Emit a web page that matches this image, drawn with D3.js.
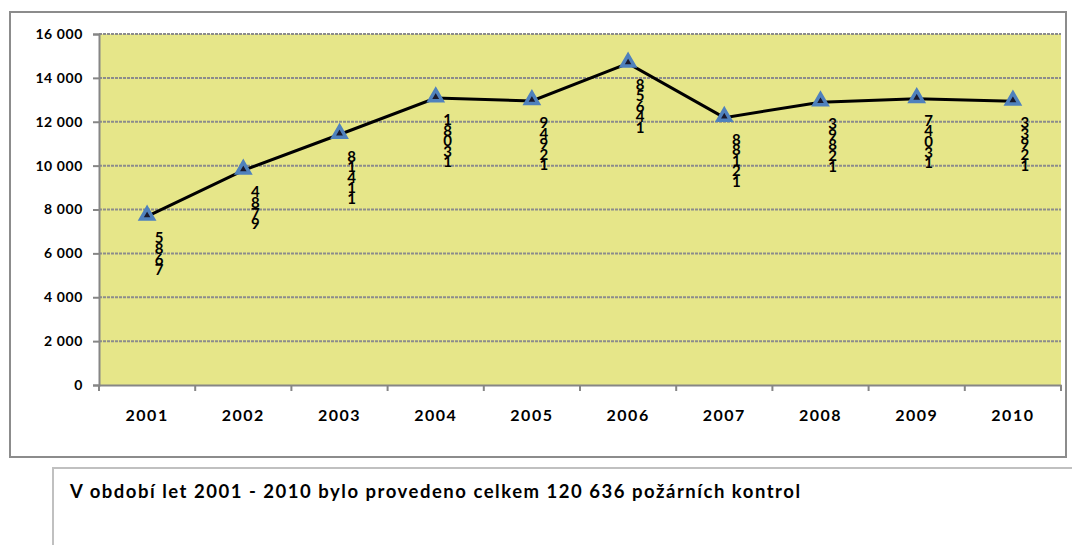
<!DOCTYPE html>
<html>
<head>
<meta charset="utf-8">
<script src="https://cdn.jsdelivr.net/npm/d3@7"></script>
<style>
  body { margin: 0; background: #fff; }
  svg text { font-family: Lato, "Liberation Sans", sans-serif; font-weight: bold; fill: #000; }
</style>
</head>
<body>
<div id="chart"></div>
<script>
var years = ["2001", "2002", "2003", "2004", "2005", "2006", "2007", "2008", "2009", "2010"];
var kontroly = [7685, 9784, 11418, 13081, 12949, 14658, 12188, 12893, 13047, 12933];
var yTicks = [0, 2000, 4000, 6000, 8000, 10000, 12000, 14000, 16000];
var popis = "V období let 2001 - 2010 bylo provedeno celkem 120 636 požárních kontrol";

var w = 1072, h = 545;
var svg = d3.select("#chart").append("svg")
    .attr("width", w)
    .attr("height", h);

// outer chart frame
svg.append("rect")
    .attr("x", 10).attr("y", 12)
    .attr("width", 1056).attr("height", 445)
    .attr("fill", "#fff")
    .attr("stroke", "#8c8c8c")
    .attr("stroke-width", 2);

var plot = {left: 99, right: 1061, top: 34, bottom: 385};

var x = d3.scaleBand()
    .domain(years)
    .range([plot.left, plot.right]);

var y = d3.scaleLinear()
    .domain([0, 16000])
    .range([plot.bottom, plot.top]);

// plot background
svg.append("rect")
    .attr("x", plot.left).attr("y", plot.top)
    .attr("width", plot.right - plot.left)
    .attr("height", plot.bottom - plot.top)
    .attr("fill", "#e6e689");

// gridlines
svg.selectAll(".grid")
    .data(yTicks.filter(function(d) { return d > 0; }))
    .enter()
    .append("line")
    .attr("class", "grid")
    .attr("x1", plot.left).attr("x2", plot.right)
    .attr("y1", function(d) { return y(d); })
    .attr("y2", function(d) { return y(d); })
    .style("stroke", "#8c8c8c")
    .style("stroke-width", 2)
    .style("stroke-dasharray", "3,1");

// y axis
var yAxis = svg.append("g")
    .attr("transform", "translate(" + plot.left + ",0)")
    .call(d3.axisLeft(y)
        .tickValues(yTicks)
        .tickSize(6)
        .tickPadding(10)
        .tickFormat(function(d) { return d3.format(",")(d).replace(/,/g, " "); }));
yAxis.select(".domain").style("stroke", "#868686").style("stroke-width", 2);
yAxis.selectAll(".tick line").style("stroke", "#868686").style("stroke-width", 2);
yAxis.selectAll("text").style("font-size", "14px").style("letter-spacing", "0.6px");

// x axis
var xAxis = svg.append("g")
    .attr("transform", "translate(0," + plot.bottom + ")")
    .call(d3.axisBottom(x).tickSize(0).tickPadding(25));
xAxis.select(".domain").style("stroke", "#868686").style("stroke-width", 2);
xAxis.selectAll("text").style("font-size", "16px").style("letter-spacing", "1.5px");

// tick marks between categories
svg.selectAll(".xtick")
    .data(years.concat(["end"]))
    .enter()
    .append("line")
    .attr("class", "xtick")
    .attr("x1", function(d, i) { return plot.left + i * x.step(); })
    .attr("x2", function(d, i) { return plot.left + i * x.step(); })
    .attr("y1", plot.bottom)
    .attr("y2", plot.bottom + 6)
    .style("stroke", "#868686")
    .style("stroke-width", 2);

// line
var line = d3.line()
    .x(function(d, i) { return x(years[i]) + x.bandwidth() / 2; })
    .y(function(d) { return y(d); });

svg.append("path")
    .datum(kontroly)
    .attr("d", line)
    .attr("fill", "none")
    .style("stroke", "#000")
    .style("stroke-width", 3);

// triangle markers
var tri = d3.symbol().type(d3.symbolTriangle).size(70);
svg.selectAll(".marker")
    .data(kontroly)
    .enter()
    .append("path")
    .attr("class", "marker")
    .attr("d", tri)
    .attr("transform", function(d, i) {
        return "translate(" + (x(years[i]) + x.bandwidth() / 2) + "," + (y(d) - 1) + ")";
    })
    .attr("fill", "#1a1a2e")
    .style("stroke", "#4f81bd")
    .style("stroke-width", 3.5)
    .style("stroke-linejoin", "miter");

// data labels - digits stacked vertically, last digit on top
var labels = svg.selectAll(".lbl")
    .data(kontroly)
    .enter()
    .append("text")
    .attr("class", "lbl")
    .attr("text-anchor", "middle")
    .style("font-size", "15px");

labels.each(function(d, i) {
    var digits = String(d).split("").reverse();
    var cx = x(years[i]) + x.bandwidth() / 2 + 12;
    var cy = y(d) + 27;
    var t = d3.select(this);
    digits.forEach(function(c, k) {
        t.append("tspan")
            .attr("x", cx)
            .attr("y", cy + k * 10.6)
            .text(c);
    });
});

// note box
svg.append("rect")
    .attr("x", 53).attr("y", 468)
    .attr("width", 1030).attr("height", 90)
    .attr("fill", "#fff")
    .attr("stroke", "#c0c0c0")
    .attr("stroke-width", 2);

svg.append("text")
    .attr("x", 70).attr("y", 498)
    .attr("textLength", 730)
    .attr("lengthAdjust", "spacing")
    .style("font-size", "18.5px")
    .text(popis);
</script>
</body>
</html>
